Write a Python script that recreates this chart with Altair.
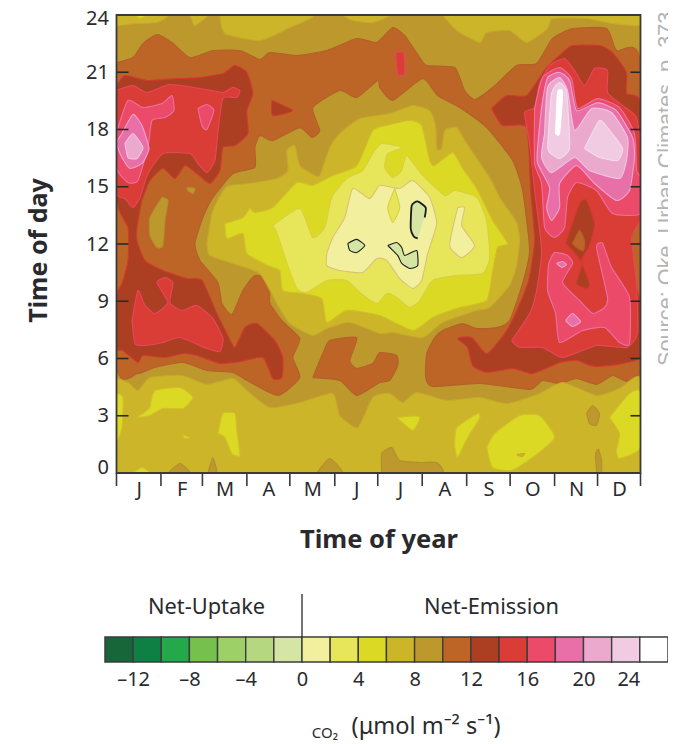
import altair as alt
import pandas as pd

# x unit: weeks of the year; y unit: hour of day
YEAR_END = 52.45
MONTHS = ["J", "F", "M", "A", "M ", "J ", "J  ", "A ", "S", "O", "N", "D"]
MONTH_EDGES = [0, 4.45, 8.6, 13.05, 17.35, 21.85, 26.15, 30.6, 35.05, 39.4, 43.85, 48.15, 52.45]
HOUR_LABEL_SPOTS = [0.29, 3, 6, 9, 12, 15, 18, 21, 23.82]
HOUR_TICKS = [3, 6, 9, 12, 15, 18, 21]

LEVELS = [-14, -12, -10, -8, -6, -4, -2, 0, 2, 4, 6, 8, 10, 12, 14, 16, 18, 20, 22, 24]
COLORS = ["#17663a", "#0f8044", "#25a84a", "#76c04d", "#9dd067", "#b5d77f", "#d5e5a3", "#f2f09e",
          "#e7e65a", "#dcd924", "#cdb52a", "#bd982d", "#bd6527", "#ac3f22", "#da3d36", "#ec4a69",
          "#e96fa8", "#eba9cd", "#f0cbe2", "#ffffff"]
EDGES = {-2: "#1a1a1a", 0: "#dcc078", 2: "#d8d03c", 4: "#cfc02a", 6: "#c6a92c", 8: "#b38f2c",
         10: "#b4602a", 12: "#d23a30", 14: "#e8465e", 16: "#ea70a4", 18: "#efa4cb", 20: "#f2c4de",
         22: "#f5dcec", 24: "#ffffff"}
LEGEND_TICKS = [-12, -8, -4, 0, 4, 8, 12, 16, 20, 24]

WHOLE = [(0, 0), (52.45, 0), (52.45, 24), (0, 24)]
C_10 = [(0,21.5),(1.65,21.77),(2.65,22.5),(4.05,22.98),(5.55,22.56),(7.35,21.77),(9.65,22.14),(12.35,22.14),(14.35,21.67),(15.35,22.03),(18.05,21.88),(21.05,22.14),(24.05,22.77),(26.05,22.56),(27.65,23.34),(28.85,22.92),(30.35,21.77),(31.05,21.35),(33.85,21.25),(34.85,20.04),(35.85,19.57),(37.65,20.2),(40.05,21.35),(42.05,21.46),(43.65,22.77),(45.65,23.29),(49.05,23.29),(50.05,22.14),(52.45,21.46),
        (52.45,5.53),(49.65,5.11),(48.05,4.64),(46.05,4.95),(44.35,4.69),(42.65,4.85),(41.35,4.38),(36.35,4.69),(31.65,4.53),(30.95,5.0),(31.05,6.26),(31.85,7.1),(32.65,7.47),(34.65,7.83),(36.05,7.57),(38.05,7.62),(39.35,7.99),(40.65,9.93),(41.35,11.66),(40.65,14.8),(39.65,16.38),(37.05,18.1),(34.35,19.15),(32.15,19.78),(30.65,20.67),(27.65,19.52),(26.35,20.2),(26.15,20.57),(24.05,19.68),(22.35,20.04),(19.65,19.15),(20.35,17.95),(19.55,17.58),(18.35,18.1),(15.65,17.42),(14.35,17.69),(13.85,17.06),(13.85,16.01),(11.65,15.69),(9.65,14.44),(8.65,13.39),(7.85,12.03),(8.35,11.14),(10.15,9.98),(10.55,8.88),(11.55,8.3),(12.65,9.56),(13.85,10.35),(15.35,10.09),(15.35,8.93),(16.55,7.99),(18.35,7.05),(17.65,6.05),(18.35,5.0),(16.15,4.06),(13.05,4.85),(11.65,5.27),(9.05,5.37),(6.65,5.79),(3.85,5.53),(2.15,5.21),(0,5.74)]
JUNE_10 = [(19.65,5.0),(20.65,6.26),(21.35,6.94),(24.05,7.1),(23.35,5.9),(24.05,5.48),(25.65,5.74),(26.35,6.31),(28.05,6.16),(28.15,5.63),(27.35,4.85),(26.35,4.74),(24.05,4.06),(22.35,4.85)]
TOP_A = [(0,24),(0,23.45),(1.65,23.55),(4.05,23.61),(5.05,24)]
TOP_B = [(7.35,24),(7.85,23.45),(9.15,24)]
TOP_C = [(10.35,24),(10.85,23.03),(14.35,22.66),(17.35,23.34),(19.65,24)]
TOP_D = [(22.65,24),(23.65,23.71),(25.65,23.61),(27.35,24)]
TOP_E = [(32.65,24),(34.05,23.19),(36.35,22.56),(37.05,23.08),(39.35,23.19),(41.05,22.56),(43.15,23.29),(43.65,23.82),(47.05,23.82),(49.65,23.55),(52.45,23.45),(52.45,24)]
TOP_Y = [(1.85,24),(2.35,23.82),(3.05,24)]
MID_6 = [(9.05,12.03),(9.65,13.76),(11.05,15.01),(13.35,15.17),(16.05,15.43),(17.15,15.85),(17.05,16.9),(17.85,17.16),(18.35,16.11),(19.85,15.59),(20.35,15.59),(21.35,17.06),(22.35,17.79),(24.35,18.58),(27.35,18.84),(29.65,19.26),(31.35,18.99),(31.95,18.21),(32.05,17.0),(32.55,17.0),(32.85,17.95),(34.05,18.1),(35.05,17.27),(37.35,15.48),(38.35,14.44),(40.05,13.13),(40.35,12.18),(40.05,10.87),(39.35,9.83),(37.35,8.67),(36.05,8.52),(32.65,7.89),(30.65,7.1),(27.65,7.36),(26.35,7.31),(23.35,7.89),(21.05,7.57),(19.65,7.21),(17.35,7.83),(16.05,8.88),(14.35,10.45),(11.65,10.98),(9.35,11.4)]
MID_4 = [(10.85,13.07),(12.65,13.39),(13.35,13.86),(13.85,13.65),(15.65,13.91),(18.05,15.22),(19.65,15.07),(21.65,15.59),(24.05,16.11),(25.65,17.95),(27.05,18.21),(29.35,18.47),(30.55,18.21),(31.35,16.38),(31.85,16.11),(33.65,16.79),(34.65,15.96),(36.05,14.91),(37.65,13.23),(39.15,12.03),(38.15,11.82),(37.65,10.61),(37.05,9.04),(34.35,8.67),(31.65,8.15),(29.65,7.47),(26.35,8.25),(23.05,8.52),(21.05,7.89),(20.55,9.14),(18.65,9.41),(16.65,9.56),(16.35,10.61),(15.15,10.87),(13.05,11.5),(12.65,12.55),(11.05,12.29)]
MID_2 = [(15.65,12.97),(18.35,13.86),(19.65,12.34),(20.85,12.86),(21.55,14.44),(23.05,15.43),(24.65,15.85),(25.65,16.74),(26.55,17.27),(28.65,17.06),(27.15,16.74),(26.85,16.01),(27.65,15.48),(28.55,15.85),(29.05,16.64),(30.65,15.59),(32.85,14.54),(33.85,14.8),(36.05,14.44),(37.05,13.23),(37.35,11.29),(36.65,10.45),(34.05,10.35),(31.65,10.09),(30.35,9.04),(29.35,8.67),(28.05,9.2),(27.05,9.41),(26.05,8.88),(24.35,9.46),(23.05,10.09),(21.05,10.09),(19.05,9.46),(18.05,9.67),(17.15,10.87),(16.05,12.6)]
MID_0 = [(21.05,11.5),(21.65,12.34),(22.85,13.39),(23.65,14.91),(25.35,14.38),(26.35,15.07),(28.35,14.91),(29.65,15.33),(31.35,14.44),(32.05,13.07),(31.15,11.5),(30.55,10.09),(29.65,9.67),(28.35,10.19),(27.05,11.14),(26.05,11.24),(24.65,10.51),(22.35,10.61),(21.05,10.87)]
MID_LAKE = [(27.85,14.91),(28.35,13.91),(27.65,13.13),(27.15,13.91)]
MID_0B = [(34.15,13.91),(34.85,13.91),(34.55,12.97),(35.85,11.92),(34.55,11.29),(33.35,11.92)]
NEG_A = [(23.15,12.03),(24.05,12.24),(24.85,11.92),(24.05,11.55),(23.35,11.66)]
NEG_B = [(27.15,11.92),(28.05,12.08),(28.55,11.82),(28.85,11.4),(30.05,11.66),(30.15,10.87),(29.35,10.72),(28.55,10.98),(28.15,11.4)]
NEG_C = [(29.55,14.02),(30.15,14.23),(30.95,13.91),(30.75,13.39),(30.35,12.71),(30.05,12.29),(29.45,12.81),(29.45,13.76)]
NEG_C_LINE = [(30.85,13.39),(30.95,13.91),(30.15,14.23),(29.55,14.02),(29.45,12.81),(29.75,12.39),(30.15,12.29)]
LOW_6 = [(0,4.95),(1.15,4.74),(2.15,4.32),(3.35,5.0),(6.55,5.11),(9.05,4.64),(11.65,4.95),(13.05,4.32),(15.35,3.43),(18.35,3.69),(21.65,4.17),(22.35,3.01),(24.15,2.38),(25.65,3.96),(27.35,4.17),(28.65,3.69),(30.05,4.22),(33.05,3.8),(36.35,3.96),(39.05,3.64),(42.35,4.17),(44.65,4.74),(48.05,4.06),(50.35,4.43),(52.45,4.95),(52.45,0),(0,0)]
LOW_8 = [
    [(47.05,3.12),(47.65,3.54),(48.35,3.12),(48.05,2.49),(47.35,2.59)],
    [(26.55,0),(26.55,1.02),(27.55,1.34),(28.35,.66),(30.35,.55),(32.05,.55),(32.55,0)],
    [(48.05,0),(47.95,1.02),(48.25,1.23),(48.55,.66),(48.55,0)],
    [(5.15,0),(6.35,.5),(7.35,0)],
    [(9.15,0),(9.65,.81),(10.05,0)],
    [(20.05,0),(21.35,.76),(22.65,0)],
]
LOW_4 = [
    [(3.35,3.43),(3.85,4.32),(6.35,4.48),(7.65,3.96),(6.65,3.38),(4.65,3.38),(3.35,3.01),(2.05,2.91),(2.65,3.12)],
    [(0,4.17),(.65,3.96),(.55,2.38),(0,1.7)],
    [(10.15,2.07),(10.65,3.12),(11.85,3.12),(12.05,2.23),(12.35,.92),(11.55,1.02),(10.85,1.86)],
    [(6.55,2.02),(7.35,1.86),(6.85,1.81)],
    [(1.65,0),(2.55,.29),(3.35,0)],
    [(28.05,2.91),(30.35,2.96),(29.65,2.23)],
    [(33.85,1.34),(34.05,2.38),(36.15,3.12),(36.35,2.86),(35.15,1.86),(34.15,.81)],
    [(37.05,1.34),(37.85,2.07),(40.35,3.01),(42.35,3.01),(43.85,1.86),(41.65,.81),(39.55,.13),(37.65,.29)],
    [(49.35,2.91),(51.35,4.17),(52.45,4.22),(52.45,1.34),(50.35,.76),(50.05,1.18),(50.35,2.07)],
]
LOW_6B = [(40.05,.97),(40.85,1.02),(40.55,.86)]
OVAL_8 = [(4.55,14.44),(5.15,14.28),(4.85,13.23),(4.65,11.92),(4.05,11.82),(3.35,12.45),(3.35,13.39)]
DOT_8 = [(7.05,14.96),(7.85,14.91),(7.65,14.65),(7.15,14.8)]
TRI_12 = [(15.55,19.52),(17.65,18.99),(15.65,18.73)]
BAR_14 = [(27.95,22.03),(28.75,22.03),(28.85,20.93),(28.15,20.88)]
LEFT_12 = [(0,20.3),(.85,20.83),(3.05,20.57),(6.05,20.67),(8.35,20.72),(10.65,20.93),(11.85,21.35),(13.05,20.99),(13.65,19.89),(13.05,18.99),(13.15,17.79),(11.85,17.16),(10.65,17.06),(10.35,15.85),(9.35,15.17),(8.05,15.69),(6.85,16.11),(5.85,15.43),(4.65,15.96),(3.35,15.33),(2.55,14.28),(2.05,12.86),(2.05,12.18),(2.85,11.14),(4.65,10.61),(7.05,10.19),(8.55,10.09),(10.05,8.36),(11.05,7.31),(11.85,6.58),(12.85,7.62),(14.05,7.83),(15.85,6.94),(16.65,6.05),(16.55,5.0),(15.65,4.95),(14.65,6.05),(12.35,5.84),(10.35,5.74),(8.05,6.16),(6.65,6.26),(4.85,6.05),(2.65,6.16),(2.15,5.79),(.65,6.42),(0,6.58),(0,9.3),(.55,9.93),(1.15,11.14),(1.15,12.86),(0,14.28)]
LEFT_14 = [(0,20.04),(1.65,20.3),(3.05,19.94),(5.35,20.36),(8.35,20.15),(10.65,19.94),(11.65,20.2),(12.35,20.04),(12.05,19.68),(10.65,19.62),(10.15,17.84),(9.85,16.38),(9.05,15.75),(8.15,16.22),(7.35,16.74),(4.65,16.74),(3.15,15.69),(2.35,14.44),(1.65,13.91),(.85,14.38),(0,14.8)]
LEFT_16 = [(0,17.84),(1.15,19.52),(2.65,19.15),(4.55,19.36),(5.55,19.78),(5.75,18.99),(4.85,18.63),(3.55,18.47),(3.15,17.06),(2.15,15.33),(1.15,15.22),(0,15.96)]
LEFT_16B = [(8.15,19.1),(9.05,19.31),(9.75,18.99),(9.05,18.0),(8.55,18.21)]
LEFT_18 = [(.55,17.79),(1.65,18.79),(2.55,18.21),(3.25,17.0),(2.55,16.22),(1.35,15.96),(.55,16.53),(0,17.27)]
LEFT_20 = [(.85,17.27),(1.65,17.79),(2.65,17.06),(2.05,16.48),(1.15,16.53)]
LOWLEFT_14 = [(1.55,7.99),(2.15,9.56),(2.85,8.78),(3.85,8.36),(5.15,8.93),(4.05,9.98),(4.85,10.24),(5.65,9.98),(5.35,8.93),(6.55,8.52),(8.05,8.78),(9.65,8.09),(10.65,7.05),(10.35,6.37),(9.05,6.52),(6.35,7.1),(4.65,6.84),(2.65,6.68),(1.85,6.79)]
RIGHT_12 = [(37.55,19.1),(39.05,19.78),(41.05,19.78),(43.05,21.25),(44.55,21.98),(45.65,22.4),(48.35,22.4),(49.65,22.03),(51.05,20.99),(51.05,19.89),(52.45,19.41),(52.45,13.91),(51.55,12.34),(51.85,10.09),(52.45,8.88),(52.45,6.05),(48.05,5.58),(46.05,5.9),(44.35,5.79),(41.65,5.21),(39.65,5.48),(37.05,5.27),(35.65,5.63),(35.15,6.58),(34.15,7.05),(35.55,7.1),(37.05,6.26),(38.85,7.31),(39.85,8.25),(41.25,10.09),(41.85,12.18),(41.45,14.8),(41.05,18.1),(38.65,18.21)]
RIGHT_14 = [(39.55,6.94),(41.35,8.36),(42.05,9.56),(42.55,11.66),(41.85,14.8),(41.35,17.27),(40.85,18.89),(41.85,19.15),(42.35,20.41),(43.35,21.35),(44.85,21.72),(45.85,21.09),(46.85,20.3),(47.85,21.2),(49.15,21.09),(49.15,19.94),(50.65,19.26),(52.05,18.63),(52.45,16.9),(52.45,13.39),(51.55,12.34),(52.05,9.93),(52.15,7.31),(51.05,6.58),(48.05,6.68),(44.65,6.05),(42.65,6.58),(40.35,6.58)]
LAKE_12 = [(44.95,12.03),(46.35,14.12),(47.05,14.28),(47.85,13.07),(47.35,11.92),(46.55,11.14),(47.35,9.93),(47.05,9.67),(46.05,9.93),(46.55,11.03)]
LAKE_10 = [(45.65,12.03),(46.35,12.71),(46.85,12.18),(46.75,11.66),(46.05,11.82)]
RIGHT_16 = [(41.85,19.1),(42.65,20.72),(44.35,21.25),(45.55,20.67),(46.15,19.1),(48.15,19.62),(50.35,19.15),(51.85,17.79),(52.05,15.85),(52.45,15.48),(52.45,13.6),(49.65,13.6),(48.05,14.8),(46.05,15.22),(45.15,14.44),(44.85,12.86),(43.85,12.34),(42.85,12.86),(42.55,15.17),(41.85,16.22)]
RIGHT_18 = [(42.15,17.06),(42.55,19.15),(43.15,20.72),(44.35,20.99),(45.35,20.57),(46.05,18.99),(48.15,19.41),(50.05,18.99),(51.65,17.58),(51.85,16.53),(51.35,14.8),(50.05,14.28),(47.85,15.17),(46.05,16.11),(44.35,15.17),(44.35,13.91),(43.55,13.23),(43.05,13.91),(43.35,14.96),(42.15,16.22)]
RIGHT_20 = [(42.85,17.79),(43.15,20.2),(44.35,20.72),(45.15,20.04),(45.85,17.95),(47.55,19.1),(49.55,18.89),(51.15,17.58),(51.05,16.38),(50.35,15.43),(47.35,15.85),(45.85,16.53),(43.55,15.74),(42.55,16.53)]
RIGHT_22A = [(43.15,17.06),(43.55,19.89),(44.35,20.46),(45.05,19.94),(45.35,17.06),(44.35,16.48),(43.35,16.79)]
RIGHT_22B = [(46.85,17.0),(48.35,18.47),(49.35,17.95),(50.65,17.0),(50.15,16.38),(48.35,16.53)]
RIGHT_24 = [(43.95,17.79),(44.15,19.94),(44.65,19.94),(44.35,17.79)]
LOWRIGHT_16 = [(43.25,10.98),(43.85,11.55),(45.15,11.4),(45.65,10.98),(44.65,9.98),(46.35,9.04),(47.65,8.36),(48.85,8.67),(49.15,9.2),(48.05,11.82),(48.65,12.03),(49.55,10.77),(51.35,9.2),(51.35,6.79),(50.35,6.84),(48.85,7.62),(46.65,7.47),(44.35,6.84),(43.95,8.36),(43.15,9.56)]
SPOT_18A = [(44.05,10.98),(44.65,11.08),(45.05,10.92),(44.55,10.77)]
SPOT_18B = [(44.95,7.99),(45.65,8.36),(46.45,7.94),(45.65,7.68)]

# painter's order: each (lower bound of the band, ring)
PAINT = [(8, WHOLE), (10, C_10), (10, JUNE_10),
         (6, TOP_A), (6, TOP_B), (6, TOP_C), (6, TOP_D), (6, TOP_E), (4, TOP_Y),
         (6, LOW_6)] + [(8, r) for r in LOW_8] + [(4, r) for r in LOW_4] + [(6, LOW_6B),
         (6, MID_6), (4, MID_4), (2, MID_2), (0, MID_0), (2, MID_LAKE), (0, MID_0B),
         (-2, NEG_A), (-2, NEG_B), (8, OVAL_8), (8, DOT_8), (12, TRI_12), (14, BAR_14),
         (12, LEFT_12), (14, LEFT_14), (16, LEFT_16), (16, LEFT_16B), (18, LEFT_18), (20, LEFT_20),
         (14, LOWLEFT_14), (12, RIGHT_12), (14, RIGHT_14), (12, LAKE_12), (10, LAKE_10),
         (16, RIGHT_16), (18, RIGHT_18), (20, RIGHT_20), (22, RIGHT_22A), (22, RIGHT_22B),
         (24, RIGHT_24), (16, LOWRIGHT_16), (18, SPOT_18A), (18, SPOT_18B)]

rows = []
for i, (band, ring) in enumerate(PAINT):
    for j, (w, h) in enumerate(list(ring) + [ring[0]]):
        rows.append({"poly": f"p{i:03d}", "seq": j, "week": w, "hour": h, "band": band})
contours = pd.DataFrame(rows)

x_scale = alt.Scale(domain=[0, YEAR_END], nice=False, zero=False)
y_scale = alt.Scale(domain=[0, 24], nice=False, zero=False)
x_enc = alt.X("week:Q", scale=x_scale)
y_enc = alt.Y("hour:Q", scale=y_scale)

FONT = "Noto Sans"
INK = "#2a2a2e"
band_keys = sorted(EDGES)
fill_map = {k: COLORS[LEVELS.index(k)] for k in band_keys}

mid_months = [(a + b) / 2 for a, b in zip(MONTH_EDGES[:-1], MONTH_EDGES[1:])]
month_expr = "{" + ",".join(f"'{m:.3f}':'{n.strip()}'" for m, n in zip(mid_months, MONTHS)) + "}"

filled = alt.Chart(contours).mark_line(strokeWidth=1.1, strokeJoin="round", interpolate="cardinal",
                                       tension=0.45, clip=True).encode(
    x=alt.X("week:Q", scale=x_scale,
            axis=alt.Axis(values=mid_months, ticks=False, domain=False, grid=False,
                          labelExpr=f"{month_expr}[format(datum.value,'.3f')]",
                          labelFont=FONT, labelFontSize=20, labelColor=INK, labelPadding=6,
                          title="Time of year", titleFont=FONT, titleFontSize=25.5, titleFontWeight="bold",
                          titleColor=INK, titlePadding=28)),
    y=alt.Y("hour:Q", scale=y_scale,
            axis=alt.Axis(values=HOUR_LABEL_SPOTS, ticks=False, domain=False, grid=False,
                          labelExpr="round(datum.value)",
                          labelFont=FONT, labelFontSize=20, labelColor=INK, labelPadding=8,
                          title="Time of day", titleFont=FONT, titleFontSize=25, titleFontWeight="bold",
                          titleColor=INK, titlePadding=34, titleY=235)),
    order="seq:Q",
    detail="poly:N",
    fill=alt.Fill("band:O", scale=alt.Scale(domain=band_keys, range=[fill_map[k] for k in band_keys]), legend=None),
    stroke=alt.Stroke("band:O", scale=alt.Scale(domain=band_keys, range=[EDGES[k] for k in band_keys]), legend=None),
)

neg_fill = alt.Chart(pd.DataFrame(
    [{"seq": j, "week": w, "hour": h} for j, (w, h) in enumerate(NEG_C)])).mark_line(
    fill=COLORS[6], stroke=COLORS[6], strokeWidth=1, interpolate="cardinal", tension=0.45).encode(x=x_enc, y=y_enc, order="seq:Q")
neg_line = alt.Chart(pd.DataFrame(
    [{"seq": j, "week": w, "hour": h} for j, (w, h) in enumerate(NEG_C_LINE)])).mark_line(
    stroke="#1a1a1a", strokeWidth=1.8, interpolate="cardinal", tension=0.45).encode(x=x_enc, y=y_enc, order="seq:Q")

frame = alt.Chart(pd.DataFrame({"a": [0], "b": [YEAR_END], "c": [0], "d": [24]})).mark_rect(
    fill=None, fillOpacity=0, stroke="#3a3a3a", strokeWidth=1.8).encode(
    x=alt.X("a:Q", scale=x_scale), x2="b:Q", y=alt.Y("c:Q", scale=y_scale), y2="d:Q")

PW, PH = 524, 458
tick_df = pd.DataFrame({"hour": HOUR_TICKS})
left_ticks = alt.Chart(tick_df).mark_rule(color="#2a2a2a", strokeWidth=1.6).encode(
    y=y_enc, x=alt.value(0), x2=alt.value(12))
right_ticks = alt.Chart(tick_df).mark_rule(color="#2a2a2a", strokeWidth=1.6).encode(
    y=y_enc, x=alt.value(PW - 10), x2=alt.value(PW))
bottom_ticks = alt.Chart(pd.DataFrame({"week": MONTH_EDGES})).mark_rule(color="#3a3a3a", strokeWidth=1.6).encode(
    x=x_enc, y=alt.value(PH), y2=alt.value(PH + 13))

source = alt.Chart(pd.DataFrame({"t": ["Source: Oke, Urban Climates, p. 373"]})).mark_text(
    font="Liberation Sans", fontSize=21.7, color="#b4b4b4", angle=270, align="left", baseline="alphabetic").encode(
    text="t:N", x=alt.value(556), y=alt.value(351))

main = alt.layer(filled, neg_fill, neg_line, frame, left_ticks, right_ticks, bottom_ticks, source).properties(
    width=PW, height=PH, view=alt.ViewConfig(stroke=None))

# colour key
PX_PER_UNIT = 14.075
key_lo = -(302 - 116.5) / PX_PER_UNIT
key_scale = alt.Scale(domain=[key_lo, key_lo + PW / PX_PER_UNIT], nice=False, zero=False)
key_df = pd.DataFrame({"lo": LEVELS, "hi": [v + 2 for v in LEVELS], "c": COLORS})
key_rects = alt.Chart(key_df).mark_rect(stroke="#3c3c3c", strokeWidth=1.4).encode(
    x=alt.X("lo:Q", scale=key_scale,
            axis=alt.Axis(values=LEGEND_TICKS, ticks=False, domain=False, grid=False, title=None,
                          labelExpr="datum.value < 0 ? '\u2013' + abs(datum.value) : '' + datum.value",
                          labelFont=FONT, labelFontSize=20, labelColor=INK, labelPadding=7)),
    x2="hi:Q",
    color=alt.Color("c:N", scale=None, legend=None),
)
divider = alt.Chart(pd.DataFrame({"v": [0]})).mark_rule(color="#2a2a2a", strokeWidth=1.3).encode(
    x=alt.X("v:Q", scale=key_scale), y=alt.value(-43), y2=alt.value(0))
heads = alt.Chart(pd.DataFrame({"v": [-6.78, 13.46], "t": ["Net-Uptake", "Net-Emission"]})).mark_text(
    font=FONT, fontSize=21.8, color=INK, baseline="middle").encode(
    x=alt.X("v:Q", scale=key_scale), y=alt.value(-30), text="t:N")
unit_big = alt.Chart(pd.DataFrame({"v": [8.81], "t": ["(\u03bcmol m\u207b\u00b2 s\u207b\u00b9)"]})).mark_text(
    font=FONT, fontSize=23.5, color=INK, baseline="middle").encode(
    x=alt.X("v:Q", scale=key_scale), y=alt.value(90), text="t:N")
unit_small = alt.Chart(pd.DataFrame({"v": [1.63], "t": ["CO\u2082"]})).mark_text(
    font=FONT, fontSize=15, color=INK, baseline="middle").encode(
    x=alt.X("v:Q", scale=key_scale), y=alt.value(96), text="t:N")
key = alt.layer(key_rects, divider, heads, unit_big, unit_small).properties(
    width=PW, height=25, view=alt.ViewConfig(stroke=None))

chart = alt.vconcat(main, key, spacing=164, bounds="flush").properties(
    padding={"left": 18.5, "top": 0, "right": -10, "bottom": 0},
).configure_view(stroke=None)

chart.save("out.html", embed_options={"renderer": "svg", "actions": False})
